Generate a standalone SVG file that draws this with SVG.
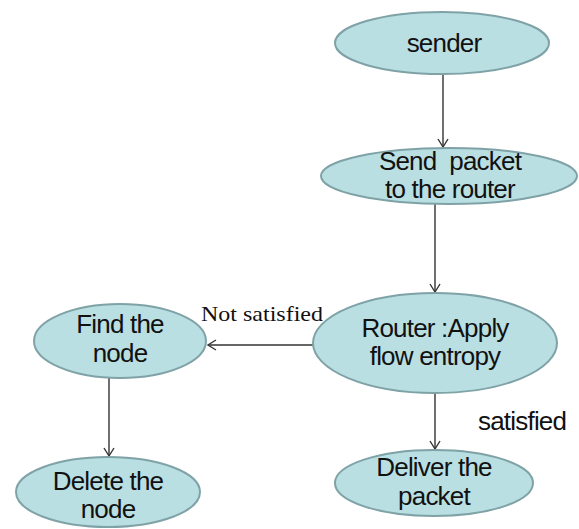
<svg xmlns="http://www.w3.org/2000/svg" width="579" height="529" viewBox="0 0 579 529">
<style>
.n{fill:#b9dfe3;stroke:#7fa2a6;stroke-width:2}
.t{font-family:"Liberation Sans",Arial,sans-serif;font-size:26px;letter-spacing:-0.8px;fill:#111;text-anchor:middle}
.c{stroke:#333;stroke-width:1.4;fill:none;marker-end:url(#a)}
</style>
<defs>
<marker id="a" markerWidth="12" markerHeight="12" refX="10" refY="6" orient="auto" markerUnits="userSpaceOnUse">
<path d="M2,1 L10,6 L2,11" fill="none" stroke="#333" stroke-width="1.4"/>
</marker>
</defs>
<rect width="579" height="529" fill="#fff"/>
<g id="connectors">
<line class="c" x1="443" y1="75" x2="443" y2="147"/>
<line class="c" x1="435" y1="204" x2="435" y2="292"/>
<line class="c" x1="313" y1="345" x2="208" y2="345"/>
<line class="c" x1="109" y1="378" x2="109" y2="456"/>
<line class="c" x1="435" y1="393" x2="435" y2="449"/>
</g>
<g id="sender">
<ellipse class="n" cx="442" cy="43" rx="107" ry="31"/>
<text class="t" x="444" y="52">sender</text>
</g>
<g id="send-packet">
<ellipse class="n" cx="449" cy="176" rx="128" ry="28"/>
<text class="t" x="450" y="170" xml:space="preserve">Send  packet</text>
<text class="t" x="450" y="198">to the router</text>
</g>
<g id="router">
<ellipse class="n" cx="435" cy="343" rx="122" ry="50"/>
<text class="t" x="435" y="337">Router :Apply</text>
<text class="t" x="435" y="365">flow entropy</text>
</g>
<g id="find-node">
<ellipse class="n" cx="120" cy="341" rx="86" ry="37"/>
<text class="t" x="120" y="333">Find the</text>
<text class="t" x="120" y="362">node</text>
</g>
<g id="delete-node">
<ellipse class="n" cx="108" cy="492" rx="92" ry="35"/>
<text class="t" x="108" y="490">Delete the</text>
<text class="t" x="108" y="518">node</text>
</g>
<g id="deliver-packet">
<ellipse class="n" cx="434" cy="483" rx="99" ry="33"/>
<text class="t" x="434" y="476">Deliver the</text>
<text class="t" x="434" y="505">packet</text>
</g>
<g id="labels">
<text x="201" y="321" font-family="Liberation Serif,'Times New Roman',serif" font-size="22" fill="#111" textLength="122" lengthAdjust="spacingAndGlyphs">Not satisfied</text>
<text x="478" y="430" font-family="Liberation Sans,Arial,sans-serif" font-size="26" letter-spacing="-0.8" fill="#111">satisfied</text>
</g>
</svg>
